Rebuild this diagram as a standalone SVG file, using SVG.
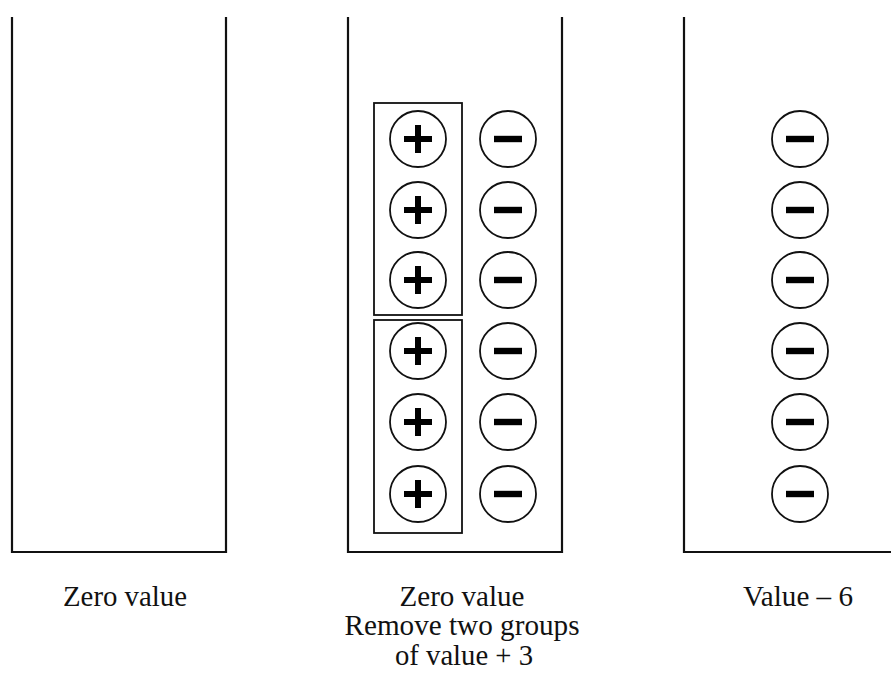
<svg xmlns="http://www.w3.org/2000/svg" xmlns:xlink="http://www.w3.org/1999/xlink" width="891" height="675" viewBox="0 0 891 675">
<style>
.cont{fill:none;stroke:#111;stroke-width:2.2}
.grp{fill:none;stroke:#111;stroke-width:1.8}
.c{fill:#fff;stroke:#111;stroke-width:1.8}
.bar{fill:#000}
.lbl{font-size:29px;fill:#111;text-anchor:middle}
</style>
<defs>
<g id="plus"><circle class="c" r="28"/><rect class="bar" x="-14" y="-3" width="28" height="6"/><rect class="bar" x="-3" y="-14" width="6" height="28"/></g>
<g id="minus"><circle class="c" r="28"/><rect class="bar" x="-14" y="-3.2" width="28" height="6.4"/></g>
</defs>
<rect width="891" height="675" fill="#fff"/>
<g id="container-left">
<path class="cont" d="M12,17 V552 H226 V17"/>
<text class="lbl" font-family="Liberation Serif, Times New Roman, DejaVu Serif, serif" x="125" y="606" textLength="124" lengthAdjust="spacingAndGlyphs">Zero value</text>
</g>
<g id="container-middle">
<path class="cont" d="M348,17 V552 H562 V17"/>
<rect class="grp" x="374" y="103" width="88" height="212"/>
<rect class="grp" x="374" y="320" width="88" height="213"/>
<use xlink:href="#plus" x="418" y="139"/>
<use xlink:href="#plus" x="418" y="210"/>
<use xlink:href="#plus" x="418" y="280"/>
<use xlink:href="#plus" x="418" y="351"/>
<use xlink:href="#plus" x="418" y="422"/>
<use xlink:href="#plus" x="418" y="494"/>
<use xlink:href="#minus" x="508" y="139"/>
<use xlink:href="#minus" x="508" y="210"/>
<use xlink:href="#minus" x="508" y="280"/>
<use xlink:href="#minus" x="508" y="351"/>
<use xlink:href="#minus" x="508" y="422"/>
<use xlink:href="#minus" x="508" y="494"/>
<text class="lbl" font-family="Liberation Serif, Times New Roman, DejaVu Serif, serif" x="462" y="606" textLength="125" lengthAdjust="spacingAndGlyphs">Zero value</text>
<text class="lbl" font-family="Liberation Serif, Times New Roman, DejaVu Serif, serif" x="462" y="635" textLength="235" lengthAdjust="spacingAndGlyphs">Remove two groups</text>
<text class="lbl" font-family="Liberation Serif, Times New Roman, DejaVu Serif, serif" x="464" y="665" textLength="138" lengthAdjust="spacingAndGlyphs">of value + 3</text>
</g>
<g id="container-right">
<path class="cont" d="M684,17 V552 H895"/>
<use xlink:href="#minus" x="800" y="139"/>
<use xlink:href="#minus" x="800" y="210"/>
<use xlink:href="#minus" x="800" y="280"/>
<use xlink:href="#minus" x="800" y="351"/>
<use xlink:href="#minus" x="800" y="422"/>
<use xlink:href="#minus" x="800" y="494"/>
<text class="lbl" font-family="Liberation Serif, Times New Roman, DejaVu Serif, serif" x="798" y="606" textLength="110" lengthAdjust="spacingAndGlyphs">Value – 6</text>
</g>
<g id="connectors"/>
</svg>
